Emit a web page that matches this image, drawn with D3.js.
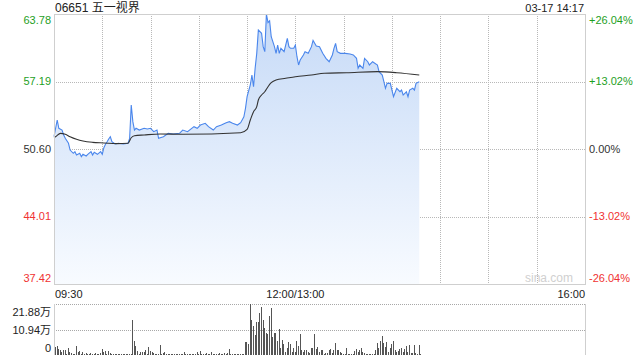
<!DOCTYPE html>
<html>
<head>
<meta charset="utf-8">
<script src="https://cdn.jsdelivr.net/npm/d3@7"></script>
<style>
  html, body { margin: 0; padding: 0; background: #fff; }
  svg { display: block; font-family: "Liberation Sans", Arial, sans-serif; }
  .grid line { stroke: #b8b8b8; stroke-dasharray: 1,1; shape-rendering: crispEdges; }
  .frame { stroke: #cfcfcf; fill: none; shape-rendering: crispEdges; }
</style>
</head>
<body>
<svg id="chart" width="640" height="360"></svg>
<script>
// Intraday minute chart, 06651 on 03-17 up to 14:17
const TITLE = "06651 五一视界";
const STAMP = "03-17 14:17";
const PRE_CLOSE = 50.60;

const priceTicks = [63.78, 57.19, 50.60, 44.01, 37.42];
const pctLabels = ["+26.04%", "+13.02%", "0.00%", "-13.02%", "-26.04%"];
const volTicks = [21.88, 10.94, 0];
const volLabels = ["21.88万", "10.94万", "0"];
const timeLabels = [{ m: 0, t: "09:30" }, { m: 150, t: "12:00/13:00" }, { m: 330, t: "16:00" }];

// trading minutes since 09:30 (lunch break removed) and price at that minute
const priceMin = [0,2,3,5,6,7,9,10,12,13,14,16,17,18,20,21,23,24,25,27,29,30,31,32,33,34,35,36,38,40,43,46,47,48,49,50,51,53,56,58,60,62,64,65,68,71,74,78,80,83,87,89,91,94,96,99,101,104,107,109,111,114,116,118,119,120,122,123,124,125,126,127,129,130,131,132,133,134,135,137,138,139,140,141,143,145,146,147,149,150,151,152,153,155,156,158,160,161,163,165,167,169,171,173,174,175,176,178,181,184,186,188,189,190,192,193,195,196,198,201,202,204,205,206,207,209,210,211,213,215,216,217,219,220,221,223,224,225,227];
const price = [51.80,53.43,52.62,52.45,51.97,51.64,51.16,50.50,50.18,50.34,50.01,50.18,49.85,50.08,49.92,50.08,50.34,50.01,50.28,50.08,50.34,50.08,50.73,51.06,51.31,51.58,51.80,51.31,51.09,51.16,51.09,51.16,51.64,54.90,53.27,52.45,52.62,52.45,52.62,52.55,52.62,52.29,52.45,51.64,51.80,52.13,52.06,52.13,52.45,52.29,52.78,52.62,52.94,53.11,52.78,52.45,52.78,52.94,53.17,53.27,53.11,52.94,53.17,53.75,54.57,55.71,56.85,57.82,56.68,58.48,59.94,62.22,61.90,60.59,60.10,63.78,62.95,63.12,61.56,60.59,59.94,60.75,59.94,60.43,60.10,61.41,60.59,60.43,60.43,60.75,59.61,58.80,59.29,59.78,60.10,59.94,60.59,61.20,60.66,60.59,59.94,59.45,59.12,59.78,60.43,60.92,60.10,59.94,59.94,59.87,59.78,59.45,58.48,58.80,58.48,59.45,59.12,58.80,59.12,58.80,58.15,57.82,57.17,56.53,57.01,57.01,56.36,55.71,56.53,56.19,56.36,55.87,56.19,55.71,56.36,56.53,56.36,57.01,57.17];

// average price line
const avgMin = [0,1,4,7,10,14,18,24,31,39,46,48,50,56,66,80,116,120,122,124,126,127,129,131,133,135,138,144,150,160,168,182,201,213,227];
const avgPrice = [51.72,51.80,52.13,52.04,51.80,51.55,51.38,51.25,51.19,51.12,51.16,51.70,51.90,51.97,52.06,52.04,52.19,52.52,53.43,54.24,54.73,55.38,55.87,56.19,56.68,57.07,57.34,57.50,57.66,57.82,57.99,58.05,58.15,58.05,57.82];

// volume per minute, in 万 shares, minute 0..227
const volume = [
  3.3,3.9,2.4,2.1,1.4,2.1,2.1,0.5,2.9,1.4,
  0.7,0.5,0.4,3.9,1.4,1.7,0.6,1.4,0.5,0.7,
  0.4,0.6,0.8,0.5,0.4,0.7,0.5,0.6,0.9,2.4,
  1.4,1.9,0.6,1.9,1.0,0.4,0.5,0.3,0.6,0.4,
  0.3,0.5,0.4,0.3,0.6,0.4,0.3,0.5,15.0,6.1,
  3.9,1.9,0.6,1.4,1.4,1.4,2.1,0.6,3.6,1.9,
  1.4,0.7,0.4,0.5,0.4,4.3,0.6,1.0,1.4,0.4,
  0.5,0.3,0.6,0.4,0.5,0.3,0.4,0.6,0.5,0.4,
  1.4,0.4,0.5,0.3,0.6,0.5,0.4,0.6,1.4,0.5,
  1.9,0.6,0.4,0.5,0.8,0.4,0.6,1.1,0.5,0.4,
  0.6,0.5,0.8,0.4,0.6,0.9,0.5,0.7,2.7,0.6,
  0.5,0.4,0.6,0.3,0.4,0.5,0.6,0.4,5.4,5.4,
  4.6,21.88,15.0,12.4,8.6,14.3,14.0,18.1,20.7,15.0,
  11.5,9.6,8.9,16.6,20.0,7.9,9.3,9.3,6.0,11.0,
  2.9,6.4,4.6,1.2,2.9,5.4,4.6,1.4,2.9,1.4,
  6.0,4.0,8.9,2.1,1.4,2.1,2.1,1.4,0.7,3.1,
  3.1,8.9,2.4,3.6,1.4,2.1,2.1,0.3,0.7,0.7,
  2.1,2.6,1.0,2.1,5.3,2.1,2.1,1.1,1.0,0.3,
  0.5,2.9,0.5,0.4,0.5,0.4,1.7,2.6,1.4,2.1,
  2.9,1.4,0.7,0.4,0.5,0.3,0.4,0.5,0.3,2.1,
  5.3,2.9,6.1,8.1,5.3,3.6,5.7,1.4,2.9,4.6,
  6.1,2.1,1.4,1.9,2.4,2.9,1.4,2.4,4.0,1.4,
  4.3,0.7,1.0,4.3,0.7,0.6,4.3,0.5
];

const GREEN = "#1ea01e", RED = "#f03232", DARK = "#333";
const L = 54, R = 585, T = 14, B = 284;
const VT = 304, VB = 355;

const svg = d3.select("#chart");
const x = d3.scaleLinear().domain([0, 330]).range([L, R]);
const y = d3.scaleLinear().domain([37.42, 63.78]).range([B, T]);
const yv = d3.scaleLinear().domain([0, 21.88]).range([VB, VT]);

const colorOf = (v) => v > PRE_CLOSE + 1e-6 ? GREEN : v < PRE_CLOSE - 1e-6 ? RED : DARK;

// gradient for the area under the price line
const grad = svg.append("defs").append("linearGradient")
  .attr("id", "fillGrad").attr("gradientUnits", "userSpaceOnUse")
  .attr("x1", 0).attr("y1", T).attr("x2", 0).attr("y2", B);
grad.append("stop").attr("offset", "0%").attr("stop-color", "#c6daf7");
grad.append("stop").attr("offset", "100%").attr("stop-color", "#f8fbff");

// grid
const grid = svg.append("g").attr("class", "grid");
grid.selectAll("line.v").data(d3.range(30, 330, 30)).join("line")
  .attr("x1", (d) => Math.round(x(d)) + 0.5).attr("x2", (d) => Math.round(x(d)) + 0.5)
  .attr("y1", T).attr("y2", B);
grid.selectAll("line.h").data(priceTicks.slice(1, -1)).join("line")
  .attr("x1", L).attr("x2", R)
  .attr("y1", (d) => Math.round(y(d)) + 0.5).attr("y2", (d) => Math.round(y(d)) + 0.5);

// price area + lines
const pts = priceMin.map((m, i) => ({ m, v: price[i] }));
const area = d3.area().x((d) => x(d.m)).y0(B).y1((d) => y(d.v));
svg.append("path").datum(pts).attr("d", area).attr("fill", "url(#fillGrad)");

svg.append("path").datum(pts)
  .attr("d", d3.line().x((d) => x(d.m)).y((d) => y(d.v)))
  .attr("fill", "none").attr("stroke", "#4a86ec").attr("stroke-width", 1.1);

const avgPts = avgMin.map((m, i) => ({ m, v: avgPrice[i] }));
svg.append("path").datum(avgPts)
  .attr("d", d3.line().x((d) => x(d.m)).y((d) => y(d.v)).curve(d3.curveMonotoneX))
  .attr("fill", "none").attr("stroke", "#333").attr("stroke-width", 1.1);

// frame of the price panel
svg.append("rect").attr("class", "frame")
  .attr("x", L + 0.5).attr("y", T + 0.5).attr("width", R - L).attr("height", B - T);

svg.append("text").attr("x", 573).attr("y", 282).attr("text-anchor", "end")
  .attr("font-size", 12).attr("fill", "#d0d0d0").text("sina.com");

// price labels left, percent labels right
const labelY = (v, i) => i === 0 ? T + 6 : i === priceTicks.length - 1 ? B - 6 : y(v);
svg.append("g").selectAll("text").data(priceTicks).join("text")
  .attr("x", 51).attr("y", (d, i) => labelY(d, i)).attr("dy", "0.35em")
  .attr("text-anchor", "end").attr("font-size", 11)
  .attr("fill", (d) => colorOf(d)).text((d) => d.toFixed(2));
svg.append("g").selectAll("text").data(pctLabels).join("text")
  .attr("x", 589).attr("y", (d, i) => labelY(priceTicks[i], i)).attr("dy", "0.35em")
  .attr("font-size", 11)
  .attr("fill", (d, i) => colorOf(priceTicks[i])).text((d) => d);

// title and time stamp
svg.append("text").attr("x", 55).attr("y", 12).attr("font-size", 12).attr("fill", "#222")
  .attr("font-family", "'Liberation Sans', 'Noto Sans CJK SC', sans-serif").text(TITLE);
svg.append("text").attr("x", 584).attr("y", 12).attr("text-anchor", "end")
  .attr("font-size", 11).attr("fill", "#222").text(STAMP);

// time axis labels
svg.append("g").selectAll("text").data(timeLabels).join("text")
  .attr("x", (d) => d.m === 0 ? L + 1 : d.m === 330 ? R : x(d.m))
  .attr("y", 294).attr("dy", "0.35em").attr("font-size", 11).attr("fill", "#222")
  .attr("text-anchor", (d) => d.m === 0 ? "start" : d.m === 330 ? "end" : "middle")
  .text((d) => d.t);

// volume panel
const vg = svg.append("g").attr("class", "grid");
vg.selectAll("line").data(volTicks.slice(0, 2)).join("line")
  .attr("x1", L).attr("x2", R)
  .attr("y1", (d) => Math.round(yv(d)) + 0.5).attr("y2", (d) => Math.round(yv(d)) + 0.5)
  .style("stroke", "#a8a8a8");
svg.append("line").attr("class", "frame").attr("x1", L + 0.5).attr("x2", L + 0.5).attr("y1", VT).attr("y2", VB);
svg.append("line").attr("class", "frame").attr("x1", R + 0.5).attr("x2", R + 0.5).attr("y1", VT).attr("y2", VB);

svg.append("g").selectAll("rect").data(volume).join("rect")
  .attr("x", (d, i) => Math.round(x(i)) + 1)
  .attr("width", 1)
  .attr("y", (d) => Math.round(yv(d)))
  .attr("height", (d) => VB - Math.round(yv(d)))
  .attr("fill", "#555");

const volLabelY = [312, 330, 348];
svg.append("g").selectAll("text").data(volLabels).join("text")
  .attr("x", 51).attr("y", (d, i) => volLabelY[i]).attr("dy", "0.35em")
  .attr("text-anchor", "end").attr("font-size", 11).attr("fill", "#222")
  .attr("font-family", "'Liberation Sans', 'Noto Sans CJK SC', sans-serif")
  .text((d) => d);
</script>
</body>
</html>
